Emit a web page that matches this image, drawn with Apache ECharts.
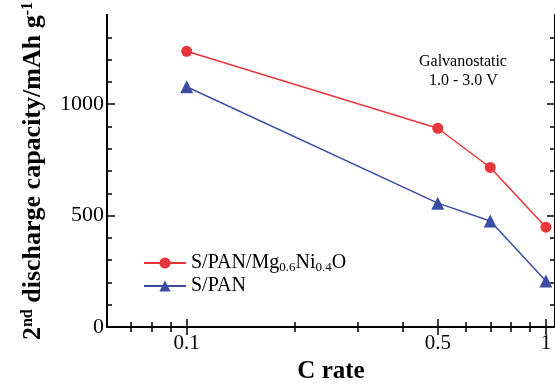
<!DOCTYPE html>
<html>
<head>
<meta charset="utf-8">
<script src="https://cdn.jsdelivr.net/npm/echarts@6/dist/echarts.min.js"></script>
<style>
  html, body { margin: 0; padding: 0; background: #fff; }
  #chart { width: 555px; height: 389px; }
</style>
</head>
<body>
<div id="chart"></div>
<script>
// data
const cRates = [0.1, 0.5, 0.7, 1]
const capMgNi = [1237, 892, 716, 448]
const capPan = [1078, 556, 476, 207]

// ticks
const xMajorTicks = [0.1, 0.5, 1]
const xMinorTicks = [0.07, 0.08, 0.09, 0.2, 0.3, 0.4, 0.6, 0.7, 0.8, 0.9]
const yMajorTicks = [0, 500, 1000]
const yMinorTicks = [100, 200, 300, 400, 600, 700, 800, 900, 1100, 1200, 1300]

const font = 'Liberation Serif'
const iChart = echarts.init(document.getElementById('chart'))

function xAxisFor (pos, ticks, len, withLabels) {
  return {
    type: 'log',
    logBase: 10,
    position: pos,
    min: 0.06,
    max: 1.06,
    axisLine: { show: true, lineStyle: { color: '#000', width: 2 } },
    axisTick: { show: true, inside: true, length: len, customValues: ticks, lineStyle: { color: '#000', width: 1.5 } },
    axisLabel: withLabels
      ? { show: true, customValues: ticks, margin: 6, color: '#000', fontFamily: font, fontSize: 21, formatter: (v) => String(v) }
      : { show: false },
    splitLine: { show: false }
  }
}

function yAxisFor (pos, ticks, len, withLabels) {
  return {
    type: 'value',
    position: pos,
    min: 0,
    max: 1400,
    axisLine: { show: true, lineStyle: { color: '#000', width: 2 } },
    axisTick: { show: true, inside: true, length: len, customValues: ticks, lineStyle: { color: '#000', width: 1.5 } },
    axisLabel: withLabels
      ? { show: true, customValues: ticks, margin: 3, color: '#000', fontFamily: font, fontSize: 22, formatter: (v) => String(v) }
      : { show: false },
    splitLine: { show: false }
  }
}

const bottomMajor = xAxisFor('bottom', xMajorTicks, 8, true)
bottomMajor.name = 'C rate'
bottomMajor.nameLocation = 'middle'
bottomMajor.nameGap = 26
bottomMajor.nameTextStyle = { color: '#000', fontFamily: font, fontSize: 25, fontWeight: 'bold' }

const leftMajor = yAxisFor('left', yMajorTicks, 8, true)
leftMajor.name = '{b|2}{sup|nd}{b| discharge capacity/mAh g}{sup|-1}'
leftMajor.nameLocation = 'middle'
leftMajor.nameRotate = 90
leftMajor.nameGap = 60
leftMajor.nameTextStyle = {
  color: '#000',
  fontFamily: font,
  fontWeight: 'bold',
  fontSize: 26,
  rich: {
    b: { fontFamily: font, fontWeight: 'bold', fontSize: 26, color: '#000' },
    sup: { fontFamily: font, fontWeight: 'bold', fontSize: 16, color: '#000', padding: [0, 0, 11, 0] }
  }
}

const option = {
  animation: false,
  backgroundColor: '#fff',
  grid: { left: 107, top: 15, bottom: 48, right: -2, containLabel: false },
  legend: {
    orient: 'vertical',
    left: 138,
    top: 248,
    itemWidth: 42,
    itemHeight: 14,
    itemGap: 2,
    textStyle: {
      color: '#000',
      fontFamily: font,
      fontSize: 20,
      lineHeight: 20,
      rich: {
        n: { fontFamily: font, fontSize: 20, color: '#000' },
        s: { fontFamily: font, fontSize: 13, color: '#000', padding: [9, 0, 0, 0] }
      }
    },
    formatter: (name) => name === 'S/PAN/Mg0.6Ni0.4O'
      ? '{n|S/PAN/Mg}{s|0.6}{n|Ni}{s|0.4}{n|O}'
      : '{n|' + name + '}',
    data: ['S/PAN/Mg0.6Ni0.4O', 'S/PAN']
  },
  xAxis: [
    bottomMajor,
    xAxisFor('bottom', xMinorTicks, 5, false),
    xAxisFor('top', xMajorTicks, 8, false),
    xAxisFor('top', xMinorTicks, 5, false)
  ],
  yAxis: [
    leftMajor,
    yAxisFor('left', yMinorTicks, 5, false),
    yAxisFor('right', yMajorTicks, 8, false),
    yAxisFor('right', yMinorTicks, 5, false)
  ],
  graphic: [
    { type: 'text', left: 419, top: 54, style: { text: 'Galvanostatic', fontFamily: font, fontSize: 16, fill: '#000' } },
    { type: 'text', left: 429, top: 73, style: { text: '1.0 - 3.0 V', fontFamily: font, fontSize: 16, fill: '#000' } }
  ],
  series: [
    {
      name: 'S/PAN/Mg0.6Ni0.4O',
      type: 'line',
      data: cRates.map((c, i) => [c, capMgNi[i]]),
      symbol: 'circle',
      symbolSize: 11,
      color: '#e8343b',
      lineStyle: { width: 1.5, color: '#e8343b' },
      itemStyle: { color: '#e8343b' }
    },
    {
      name: 'S/PAN',
      type: 'line',
      data: cRates.map((c, i) => [c, capPan[i]]),
      symbol: 'triangle',
      symbolSize: 13,
      color: '#3a4da2',
      lineStyle: { width: 1.5, color: '#3a4da2' },
      itemStyle: { color: '#3a4da2' }
    }
  ]
}

iChart.setOption(option)
</script>
</body>
</html>
